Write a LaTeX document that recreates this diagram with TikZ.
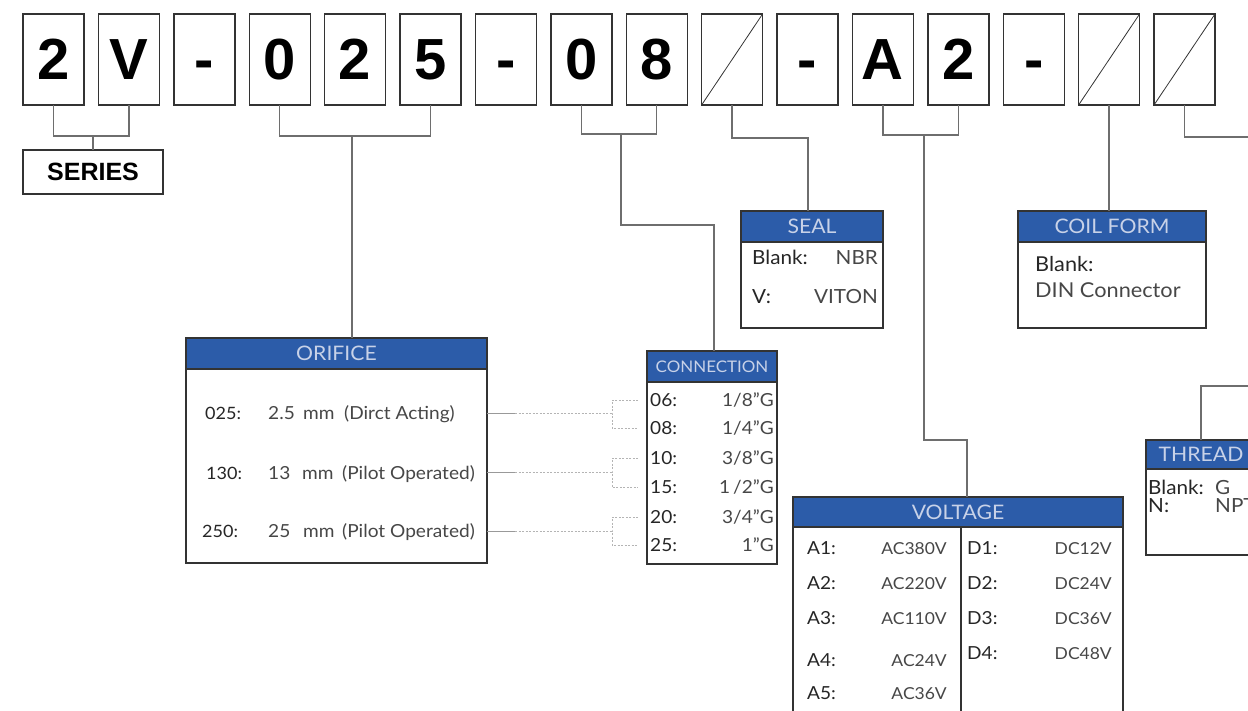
\documentclass[tikz,border=0pt]{standalone}
\usepackage{fontspec}
\setmainfont{Lato}[FakeStretch=1.06]
\newfontfamily\arialfamily{Liberation Sans}
\usepackage{xcolor}
\usetikzlibrary{positioning}
\definecolor{hblue}{HTML}{2C5CA9}
\definecolor{htext}{HTML}{C8D2E8}
\definecolor{boxline}{HTML}{333333}
\definecolor{linkgray}{HTML}{6E6E6E}
\definecolor{dotgray}{HTML}{B4B4B4}
\definecolor{lbltext}{HTML}{262626}
\definecolor{valtext}{HTML}{474747}
\newcommand{\setfs}[1]{\fontsize{#1pt}{#1pt}\selectfont}
\newcommand{\dash}{\vphantom{0}-}

\begin{document}
\begin{tikzpicture}[
    x=1pt, y=-1pt,
    codebox/.style={rectangle, draw=boxline, line width=1.4pt, minimum width=61pt, minimum height=91pt, inner sep=0pt, outer sep=0pt, font=\arialfamily\bfseries\setfs{58}},
    seriesbox/.style={rectangle, draw=boxline, line width=1.4pt, minimum width=140pt, minimum height=44pt, inner sep=0pt, outer sep=0pt, font=\arialfamily\bfseries\setfs{25}},
    headbar/.style={rectangle, draw=boxline, fill=hblue, line width=1.4pt, text=htext, minimum height=31pt, inner sep=0pt, outer sep=0pt, font=\setfs{20}},
    bodybox/.style={rectangle, draw=boxline, fill=white, line width=1.4pt, inner sep=0pt, outer sep=0pt},
    rowlbl/.style={anchor=base west, inner sep=0pt, text=lbltext, font=\setfs{17}},
    rowval/.style={anchor=base east, inner sep=0pt, text=valtext, font=\setfs{18}},
    link/.style={draw=linkgray, line width=1.3pt},
    dotlink/.style={draw=dotgray, line width=0.9pt, dash pattern=on 2pt off 1.5pt},
    slashline/.style={draw=boxline, line width=0.8pt}
]
    \useasboundingbox (0,0) rectangle (1248,711);

    % Code row
    \node[codebox, anchor=north west] (c0) at (23,14) {2};
    \node[codebox, right=14.4pt of c0] (c1) {V};
    \node[codebox, right=14.4pt of c1] (c2) {\dash};
    \node[codebox, right=14.4pt of c2] (c3) {0};
    \node[codebox, right=14.4pt of c3] (c4) {2};
    \node[codebox, right=14.4pt of c4] (c5) {5};
    \node[codebox, right=14.4pt of c5] (c6) {\dash};
    \node[codebox, right=14.4pt of c6] (c7) {0};
    \node[codebox, right=14.4pt of c7] (c8) {8};
    \node[codebox, right=14.4pt of c8] (c9) {};
    \node[codebox, right=14.4pt of c9] (c10) {\dash};
    \node[codebox, right=14.4pt of c10] (c11) {A};
    \node[codebox, right=14.4pt of c11] (c12) {2};
    \node[codebox, right=14.4pt of c12] (c13) {\dash};
    \node[codebox, right=14.4pt of c13] (c14) {};
    \node[codebox, right=14.4pt of c14] (c15) {};
    \draw[slashline] (c9.south west) -- (c9.north east);
    \draw[slashline] (c14.south west) -- (c14.north east);
    \draw[slashline] (c15.south west) -- (c15.north east);

    % Series
    \node[seriesbox, anchor=north west] (series) at (23,150) {SERIES};

    % Orifice
    \node[headbar, anchor=north west, minimum width=301pt] (orih) at (186,338) {ORIFICE};
    \node[bodybox, below=0pt of orih, minimum width=301pt, minimum height=194pt] (orib) {};
    \node[rowlbl] (o1l) at (205,419.5) {025:};
    \node[rowlbl, font=\setfs{18}, text=valtext] (o1) at (268,419.5) {\makebox[35pt][l]{2.5}\makebox[41pt][l]{mm}(Dirct Acting)};
    \node[rowlbl] (o2l) at (206,479.5) {130:};
    \node[rowlbl, font=\setfs{18}, text=valtext] (o2) at (268,479.5) {\makebox[34pt][l]{13}\makebox[40pt][l]{mm}(Pilot Operated)};
    \node[rowlbl] (o3l) at (202,537.5) {250:};
    \node[rowlbl, font=\setfs{18}, text=valtext] (o3) at (268,537.5) {\makebox[35pt][l]{25}\makebox[39pt][l]{mm}(Pilot Operated)};

    % Connection
    \node[headbar, anchor=north west, minimum width=130pt, font=\setfs{16}] (connh) at (647,351) {CONNECTION};
    \node[bodybox, below=0pt of connh, minimum width=130pt, minimum height=182pt] (connb) {};
    \node[rowlbl, font=\setfs{18}] (n06) at (650,406.5) {06:};
    \node[rowval] at (774,406.5) {1/8\textquotedblright G};
    \node[rowlbl, font=\setfs{18}] (n08) at (650,434.5) {08:};
    \node[rowval] at (774,434.5) {1/4\textquotedblright G};
    \node[rowlbl, font=\setfs{18}] (n10) at (650,464.5) {10:};
    \node[rowval] at (774,464.5) {3/8\textquotedblright G};
    \node[rowlbl, font=\setfs{18}] (n15) at (650,493.5) {15:};
    \node[rowval] at (774,493.5) {1\,/2\textquotedblright G};
    \node[rowlbl, font=\setfs{18}] (n20) at (650,523.5) {20:};
    \node[rowval] at (774,523.5) {3/4\textquotedblright G};
    \node[rowlbl, font=\setfs{18}] (n25) at (650,551.5) {25:};
    \node[rowval] at (774,551.5) {1\textquotedblright G};

    % Seal
    \node[headbar, anchor=north west, minimum width=142pt] (sealh) at (741,211) {SEAL};
    \node[bodybox, below=0pt of sealh, minimum width=142pt, minimum height=86pt] (sealb) {};
    \node[rowlbl, font=\setfs{19.5}] at (752,265) {Blank:};
    \node[rowval, font=\setfs{19.5}] at (878,265) {NBR};
    \node[rowlbl, font=\setfs{19.5}] at (752,304) {V:};
    \node[rowval, font=\setfs{19.5}] at (878,304) {VITON};

    % Coil form
    \node[headbar, anchor=north west, minimum width=188pt] (coilh) at (1018,211) {COIL FORM};
    \node[bodybox, below=0pt of coilh, minimum width=188pt, minimum height=86pt] (coilb) {};
    \node[rowlbl, font=\setfs{20.5}] at (1035,271.5) {Blank:};
    \node[rowlbl, font=\setfs{20.5}, text=valtext] at (1035,297.5) {DIN Connector};

    % Thread
    \node[headbar, anchor=north west, minimum width=110pt, minimum height=29pt] (threadh) at (1146,440) {THREAD};
    \node[bodybox, below=0pt of threadh, minimum width=110pt, minimum height=86pt] (threadb) {};
    \node[rowlbl, font=\setfs{19.5}] at (1148,494) {Blank:};
    \node[rowlbl, font=\setfs{19.5}, text=valtext] at (1215,494) {G};
    \node[rowlbl, font=\setfs{19.5}] at (1148,512) {N:};
    \node[rowlbl, font=\setfs{19.5}, text=valtext] at (1215,512) {NPT};

    % Voltage
    \node[headbar, anchor=north west, minimum width=330pt, minimum height=30pt] (volth) at (793,497) {VOLTAGE};
    \node[bodybox, below=0pt of volth, minimum width=330pt, minimum height=203pt] (voltb) {};
    \draw[draw=boxline, line width=1.4pt] ([xshift=3pt]voltb.north) -- ([xshift=3pt]voltb.south);
    \node[rowlbl, font=\setfs{18}] at (807,554.5) {A1:};
    \node[rowval, font=\setfs{16.5}] at (947,554.5) {AC380V};
    \node[rowlbl, font=\setfs{18}] at (807,589.5) {A2:};
    \node[rowval, font=\setfs{16.5}] at (947,589.5) {AC220V};
    \node[rowlbl, font=\setfs{18}] at (807,624.5) {A3:};
    \node[rowval, font=\setfs{16.5}] at (947,624.5) {AC110V};
    \node[rowlbl, font=\setfs{18}] at (807,666.5) {A4:};
    \node[rowval, font=\setfs{16.5}] at (947,666.5) {AC24V};
    \node[rowlbl, font=\setfs{18}] at (807,699.5) {A5:};
    \node[rowval, font=\setfs{16.5}] at (947,699.5) {AC36V};
    \node[rowlbl, font=\setfs{18}] at (967,554.5) {D1:};
    \node[rowval, font=\setfs{16.5}] at (1112,554.5) {DC12V};
    \node[rowlbl, font=\setfs{18}] at (967,589.5) {D2:};
    \node[rowval, font=\setfs{16.5}] at (1112,589.5) {DC24V};
    \node[rowlbl, font=\setfs{18}] at (967,624.5) {D3:};
    \node[rowval, font=\setfs{16.5}] at (1112,624.5) {DC36V};
    \node[rowlbl, font=\setfs{18}] at (967,659.5) {D4:};
    \node[rowval, font=\setfs{16.5}] at (1112,659.5) {DC48V};

    % Bends of the connectors
    \coordinate (sb) at (93,136);
    \coordinate (ob) at (352,136);
    \coordinate (nb) at (621,134);
    \coordinate (nk) at (714,225);
    \coordinate (sk) at (808,138);
    \coordinate (vb) at (924,135);
    \coordinate (vk) at (967,440);
    \coordinate (tk) at (1260,137);
    \coordinate (tr) at (1260,386);
    \coordinate (d1) at (612,413);
    \coordinate (d2) at (612,472);
    \coordinate (d3) at (612,531);

    % Connections
    \draw[link] (c0.south) |- (sb) -| (c1.south);
    \draw[link] (sb) -- (series.north);
    \draw[link] (c3.south) |- (ob) -| (c5.south);
    \draw[link] (ob) -- (ob |- orih.north);
    \draw[link] (c7.south) |- (nb) -| (c8.south);
    \draw[link] (nb) |- (nk) -- (nk |- connh.north);
    \draw[link] (c9.south) |- (sk) -- (sk |- sealh.north);
    \draw[link] (c11.south) |- (vb) -| (c12.south);
    \draw[link] (vb) |- (vk) -- (vk |- volth.north);
    \draw[link] (c14.south) -- (c14.south |- coilh.north);
    \draw[link] (c15.south) |- (tk);
    \draw[link] (tr) -| (threadh.north);

    % Orifice to connection
    \draw[link, line width=1pt, draw=linkgray!70] (orib.east |- d1) -- ++(28,0);
    \draw[link, line width=1pt, draw=linkgray!70] (orib.east |- d2) -- ++(28,0);
    \draw[link, line width=1pt, draw=linkgray!70] (orib.east |- d3) -- ++(28,0);
    \draw[dotlink] ([xshift=28pt]orib.east |- d1) -- (d1);
    \draw[dotlink] ([xshift=28pt]orib.east |- d2) -- (d2);
    \draw[dotlink] ([xshift=28pt]orib.east |- d3) -- (d3);
    \draw[dotlink] ([xshift=-12pt]n06.west) -| (d1) |- ([xshift=-12pt]n08.west);
    \draw[dotlink] ([xshift=-12pt]n10.west) -| (d2) |- ([xshift=-12pt]n15.west);
    \draw[dotlink] ([xshift=-12pt]n20.west) -| (d3) |- ([xshift=-12pt]n25.west);
\end{tikzpicture}
\end{document}
